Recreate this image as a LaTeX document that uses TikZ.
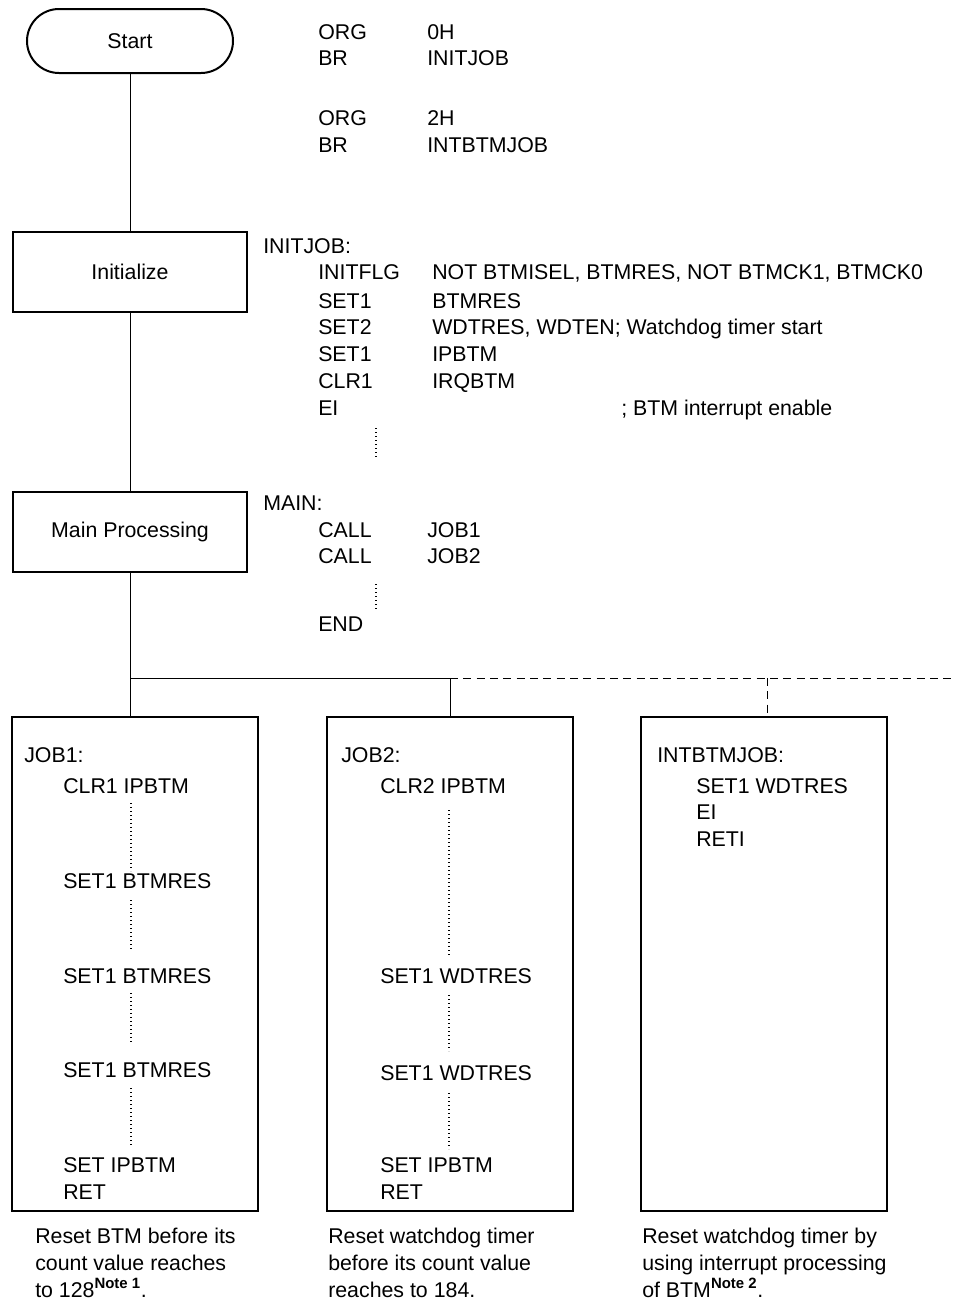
\documentclass[tikz,border=0pt]{standalone}
\usepackage{fontspec}
\setmainfont{Liberation Sans}
\begin{document}
\begin{tikzpicture}[x=0.75pt,y=-0.75pt,
  every node/.style={font=\fontsize{16}{18}\selectfont},
  code/.style={anchor=base west, inner sep=0pt},
  captext/.style={anchor=base west, inner sep=0pt},
  flowbox/.style={draw, line width=1.5pt, minimum width=175.5pt, minimum height=60pt, inner sep=0pt},
  jobbox/.style={draw, line width=1.5pt, minimum width=184.5pt, minimum height=370.5pt, inner sep=0pt},
  conn/.style={line width=0.75pt},
  dconn/.style={line width=0.75pt, dash pattern=on 6pt off 4pt},
  dots/.style={line width=1pt, dash pattern=on 0.9pt off 2.1pt}]
\useasboundingbox (0,0) rectangle (954,1303);
% flow boxes
\node[draw, line width=1.5pt, rounded corners=24pt, minimum width=154.5pt, minimum height=48pt, inner sep=0pt] (start) at (130,41) {Start};
\node[flowbox] (init) at (130,271.5) {Initialize};
\node[flowbox] (mainp) at (130,532) {Main Processing};
\node[jobbox] (job1) at (135,964) {};
\node[jobbox] (job2) at (449.5,964) {};
\node[jobbox] (job3) at (763.5,964) {};
% connectors
\draw[conn] (start.south) -- (init.north);
\draw[conn] (init.south) -- (mainp.north);
\coordinate (br) at (130,678);
\coordinate (b2) at (450,678);
\coordinate (b3) at (767,678);
\coordinate (dend) at (954,678);
\draw[conn] (mainp.south) -- (mainp.south |- job1.north);
\draw[conn] (br) -- (b2) -- (b2 |- job2.north);
\draw[dconn] (b2) -- (dend);
\draw[dconn] (b3) -- (b3 |- job3.north);
% ORG block
\node[code] (org1) at (318,39) {ORG};
\node[code] (org1a) at (427,39) {0H};
\node[code] (br1) at (318,65) {BR};
\node[code] (br1a) at (427,65) {INITJOB};
\node[code] (org2) at (318,125) {ORG};
\node[code] (org2a) at (427,125) {2H};
\node[code] (br2) at (318,152) {BR};
\node[code] (br2a) at (427,152) {INTBTMJOB};
% INITJOB block
\node[code] (ij) at (263,253) {INITJOB:};
\node[code] (i1) at (318,279) {INITFLG};
\node[code] (i1a) at (432,279) {NOT BTMISEL, BTMRES, NOT BTMCK1, BTMCK0};
\node[code] (i2) at (318,308) {SET1};
\node[code] (i2a) at (432,308) {BTMRES};
\node[code] (i3) at (318,334) {SET2};
\node[code] (i3a) at (432,334) {WDTRES, WDTEN; Watchdog timer start};
\node[code] (i4) at (318,361) {SET1};
\node[code] (i4a) at (432,361) {IPBTM};
\node[code] (i5) at (318,388) {CLR1};
\node[code] (i5a) at (432,388) {IRQBTM};
\node[code] (i6) at (318,415) {EI};
\node[code] (i6a) at (621,415) {; BTM interrupt enable};
\draw[dots] (376,428) -- (376,459);
% MAIN block
\node[code] (mn) at (263,510) {MAIN:};
\node[code] (m1) at (318,537) {CALL};
\node[code] (m1a) at (427,537) {JOB1};
\node[code] (m2) at (318,563) {CALL};
\node[code] (m2a) at (427,563) {JOB2};
\draw[dots] (376,584) -- (376,611);
\node[code] (m3) at (318,631) {END};
% JOB1
\node[code] (j1t) at (24,762) {JOB1:};
\node[code] (j1a) at (63,793) {CLR1 IPBTM};
\node[code] (j1b) at (63,888) {SET1 BTMRES};
\node[code] (j1c) at (63,983) {SET1 BTMRES};
\node[code] (j1d) at (63,1077) {SET1 BTMRES};
\node[code] (j1e) at (63,1172) {SET IPBTM};
\node[code] (j1f) at (63,1199) {RET};
\draw[dots] (131,803) -- (131,871);
\draw[dots] (131,900) -- (131,951);
\draw[dots] (131,993) -- (131,1044);
\draw[dots] (131,1088) -- (131,1146);
% JOB2
\node[code] (j2t) at (341,762) {JOB2:};
\node[code] (j2a) at (380,793) {CLR2 IPBTM};
\node[code] (j2b) at (380,983) {SET1 WDTRES};
\node[code] (j2c) at (380,1080) {SET1 WDTRES};
\node[code] (j2d) at (380,1172) {SET IPBTM};
\node[code] (j2e) at (380,1199) {RET};
\draw[dots] (449,810) -- (449,956);
\draw[dots] (449,995) -- (449,1051);
\draw[dots] (449,1093) -- (449,1149);
% JOB3
\node[code] (j3t) at (657,762) {INTBTMJOB:};
\node[code] (j3a) at (696,793) {SET1 WDTRES};
\node[code] (j3b) at (696,819) {EI};
\node[code] (j3c) at (696,846) {RETI};
% captions
\node[captext] (c1a) at (35,1243) {Reset BTM before its};
\node[captext] (c1b) at (35,1270) {count value reaches};
\node[captext] (c1c) at (35,1297) {to 128\textsuperscript{\bfseries Note 1}.};
\node[captext] (c2a) at (328,1243) {Reset watchdog timer};
\node[captext] (c2b) at (328,1270) {before its count value};
\node[captext] (c2c) at (328,1297) {reaches to 184.};
\node[captext] (c3a) at (642,1243) {Reset watchdog timer by};
\node[captext] (c3b) at (642,1270) {using interrupt processing};
\node[captext] (c3c) at (642,1297) {of BTM\textsuperscript{\bfseries Note 2}.};
\end{tikzpicture}
\end{document}
